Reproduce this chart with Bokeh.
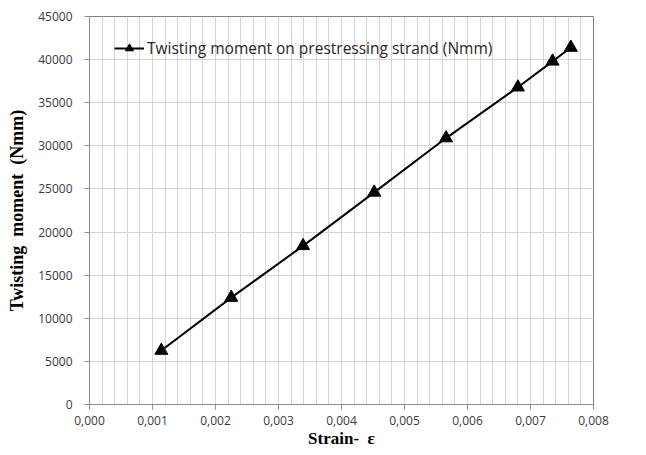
from bokeh.plotting import figure
from bokeh.models import (Range1d, SingleIntervalTicker, CustomJSTickFormatter,
                          NumeralTickFormatter, Legend, LegendItem)
from bokeh.embed import file_html
from bokeh.resources import INLINE

# Data
strain = [0.00114, 0.00225, 0.00339, 0.00452, 0.00566, 0.00680, 0.00735, 0.00764]
moment = [6260, 12400, 18400, 24600, 30900, 36800, 39800, 41400]
series_label = "Twisting moment on prestressing strand (Nmm)"
x_title = "Strain-\u00a0\u00a0ε"
y_title = "Twisting\u00a0 moment\u00a0 (Nmm)"

p = figure(frame_width=504, frame_height=388, output_backend="svg", toolbar_location=None,
           x_range=Range1d(0, 0.008), y_range=Range1d(0, 45000),
           min_border_left=89, min_border_right=30, min_border_top=16, min_border_bottom=35)

p.background_fill_color = "white"
p.border_fill_color = "white"
p.outline_line_color = "#7f7f7f"
p.outline_line_width = 1

p.xaxis.ticker = SingleIntervalTicker(interval=0.001, num_minor_ticks=5)
p.yaxis.ticker = SingleIntervalTicker(interval=5000, num_minor_ticks=0)
p.xaxis.formatter = CustomJSTickFormatter(code="return tick.toFixed(3).replace('.', ',');")
p.yaxis.formatter = NumeralTickFormatter(format="0")

for ax in (p.xaxis[0], p.yaxis[0]):
    ax.axis_line_color = "#8c8c8c"
    ax.major_tick_line_color = "#8c8c8c"
    ax.major_tick_in = 0
    ax.major_tick_out = 5
    ax.minor_tick_line_color = None
    ax.major_label_text_font = "Open Sans"
    ax.major_label_text_font_size = "12px"
    ax.major_label_text_color = "#3a3a3a"
    ax.axis_label_text_font = "Liberation Serif"
    ax.axis_label_text_font_style = "bold"
    ax.axis_label_text_color = "#000000"

p.xaxis.axis_label = x_title
p.yaxis.axis_label = y_title
p.xaxis.axis_label_text_font_size = "17px"
p.yaxis.axis_label_text_font_size = "18px"
p.xaxis.major_label_standoff = 6
p.yaxis.major_label_standoff = 12
p.xaxis.axis_label_standoff = 1
p.yaxis.axis_label_standoff = 8

p.xgrid.grid_line_color = None
p.xgrid.minor_grid_line_color = "#d4d4d4"
p.xgrid.minor_grid_line_width = 1
p.ygrid.grid_line_color = "#d4d4d4"
p.ygrid.grid_line_width = 1

ln = p.line(strain, moment, line_color="black", line_width=2)
mk = p.scatter(strain, moment, marker="triangle", size=13, fill_color="black", line_color="black")

legend = Legend(items=[LegendItem(label=series_label, renderers=[ln, mk])],
                location=(25, 345), orientation="vertical")
legend.background_fill_alpha = 0
legend.border_line_color = None
legend.label_text_font = "Open Sans"
legend.label_text_font_size = "15.5px"
legend.label_text_color = "#262626"
legend.glyph_width = 30
legend.padding = 4
legend.spacing = 0
legend.label_standoff = 3
p.add_layout(legend)

open("out.html", "w").write(file_html(p, INLINE))
